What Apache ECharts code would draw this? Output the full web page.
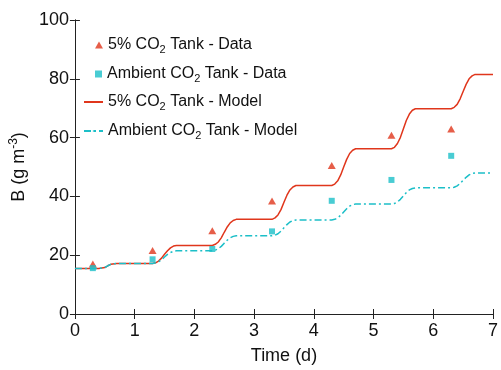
<!DOCTYPE html>
<html><head><meta charset="utf-8">
<script src="https://cdn.jsdelivr.net/npm/echarts@6/dist/echarts.min.js"></script>
<style>html,body{margin:0;padding:0;background:#fff}#c{width:501px;height:370px}</style>
</head><body><div id="c"></div>
<script>
var dataTime = [0.3, 1.3, 2.3, 3.3, 4.3, 5.3, 6.3];
var highData = [17.0, 21.6, 28.3, 38.4, 50.5, 60.8, 62.9];
var ambData = [15.6, 18.6, 22.1, 28.1, 38.5, 45.6, 53.8];
var modelTime = [0, 0.4, 0.5, 0.55, 0.6, 0.7,
  1.3, 1.35, 1.4, 1.45, 1.5, 1.55, 1.6, 1.65, 1.7,
  2.3, 2.35, 2.4, 2.45, 2.5, 2.55, 2.6, 2.65, 2.7,
  3.3, 3.35, 3.4, 3.45, 3.5, 3.55, 3.6, 3.65, 3.7,
  4.3, 4.35, 4.4, 4.45, 4.5, 4.55, 4.6, 4.65, 4.7,
  5.3, 5.35, 5.4, 5.45, 5.5, 5.55, 5.6, 5.65, 5.7,
  6.3, 6.35, 6.4, 6.45, 6.5, 6.55, 6.6, 6.65, 6.7, 7.0];
var highModel = [15.5, 15.5, 15.8, 16.4, 16.9, 17.2,
  17.2, 17.4, 18.0, 19.0, 20.3, 21.5, 22.5, 23.1, 23.3,
  23.3, 23.7, 24.5, 25.9, 27.8, 29.6, 31.0, 31.8, 32.2,
  32.2, 32.7, 33.7, 35.5, 38.0, 40.4, 42.2, 43.2, 43.7,
  43.7, 44.2, 45.3, 47.3, 50.0, 52.6, 54.6, 55.7, 56.2,
  56.2, 56.7, 58.0, 60.1, 63.0, 65.9, 68.0, 69.3, 69.8,
  69.8, 70.3, 71.3, 73.2, 75.7, 78.1, 80.0, 81.0, 81.5, 81.5];
var ambModel = [15.5, 15.5, 15.8, 16.4, 16.9, 17.2,
  17.2, 17.4, 17.8, 18.4, 19.4, 20.3, 20.9, 21.3, 21.5,
  21.5, 21.7, 22.2, 23.0, 24.1, 25.1, 25.9, 26.4, 26.6,
  26.6, 26.8, 27.3, 28.2, 29.3, 30.4, 31.3, 31.8, 32.0,
  32.0, 32.2, 32.7, 33.6, 34.7, 35.8, 36.7, 37.2, 37.4,
  37.4, 37.6, 38.1, 39.0, 40.2, 41.3, 42.2, 42.7, 42.9,
  42.9, 43.1, 43.6, 44.4, 45.5, 46.5, 47.3, 47.8, 48.0, 48.0];
var seriesNames = ['5% CO2 Tank - Data', 'Ambient CO2 Tank - Data', '5% CO2 Tank - Model', 'Ambient CO2 Tank - Model'];
var xTicks = [0, 1, 2, 3, 4, 5, 6, 7];
var yTicks = [0, 20, 40, 60, 80, 100];

var RED = '#e0361c', CYAN = '#1cbfc8';
var FONT = '"Liberation Sans", Arial, sans-serif';
function zip(a, b) { return a.map(function (v, i) { return [v, b[i]]; }); }
var legendText = {
  fontFamily: FONT, fontSize: 16, color: '#111',
  rich: { sub: { fontFamily: FONT, fontSize: 11, padding: [10, 0, 0, 0], color: '#111' } }
};
function fmt(n) { return n.replace('CO2', 'CO{sub|2}'); }
function leg(name, left, top, w, h) {
  return { data: [name], left: left, top: top, itemWidth: w, itemHeight: h, itemGap: 0,
    formatter: fmt, textStyle: legendText, selectedMode: false, padding: 0 };
}
var axisCommonX = { type: 'value', min: 0, max: 7, interval: 1 };
var axisCommonY = { type: 'value', min: 0, max: 100, interval: 20 };
var lineStyleAxis = { color: '#222', width: 1 };

var chart = echarts.init(document.getElementById('c'));
chart.setOption({
  animation: false,
  grid: { left: 73, right: 4, top: 20, bottom: 45, containLabel: false },
  legend: [
    leg(seriesNames[0], 95, 37, 8, 7),
    leg(seriesNames[1], 95, 66, 7, 7),
    leg(seriesNames[2], 83, 94, 19, 2),
    leg(seriesNames[3], 83, 123, 19, 2)
  ],
  xAxis: [
    Object.assign({}, axisCommonX, {
      position: 'bottom',
      name: 'Time (d)', nameLocation: 'middle', nameGap: 33,
      nameTextStyle: { fontFamily: FONT, fontSize: 18, color: '#111' },
      axisLine: { show: true, lineStyle: lineStyleAxis },
      axisTick: { show: true, inside: true, length: 5, lineStyle: lineStyleAxis },
      axisLabel: { fontFamily: FONT, fontSize: 18, color: '#111', margin: 8,
        formatter: function (v) { return xTicks.indexOf(v) >= 0 ? String(v) : ''; } },
      splitLine: { show: false }
    }),
    Object.assign({}, axisCommonX, {
      position: 'top',
      axisLine: { show: true, lineStyle: lineStyleAxis },
      axisTick: { show: true, inside: true, length: 5, lineStyle: lineStyleAxis },
      axisLabel: { show: false }, splitLine: { show: false }
    })
  ],
  yAxis: [
    Object.assign({}, axisCommonY, {
      position: 'left',
      name: 'B (g m{sup|-3})', nameLocation: 'middle', nameGap: 36, nameRotate: 90,
      nameTextStyle: { fontFamily: FONT, fontSize: 18, color: '#111',
        rich: { sup: { fontFamily: FONT, fontSize: 12, padding: [0, 0, 10, 0], color: '#111' } } },
      axisLine: { show: true, lineStyle: lineStyleAxis },
      axisTick: { show: true, inside: true, length: 5, lineStyle: lineStyleAxis },
      axisLabel: { fontFamily: FONT, fontSize: 18, color: '#111', margin: 6,
        formatter: function (v) { return yTicks.indexOf(v) >= 0 ? String(v) : ''; } },
      splitLine: { show: false }
    }),
    Object.assign({}, axisCommonY, {
      position: 'right',
      axisLine: { show: true, lineStyle: lineStyleAxis },
      axisTick: { show: true, inside: true, length: 5, lineStyle: lineStyleAxis },
      axisLabel: { show: false }, splitLine: { show: false }
    })
  ],
  series: [
    { name: seriesNames[2], type: 'line', data: zip(modelTime, highModel), showSymbol: false, symbol: 'none',
      smooth: false, lineStyle: { color: RED, width: 1.5 }, itemStyle: { color: RED }, z: 2 },
    { name: seriesNames[3], type: 'line', data: zip(modelTime, ambModel), showSymbol: false, symbol: 'none',
      smooth: false, lineStyle: { color: CYAN, width: 1.5, type: [7, 3, 2, 3] }, itemStyle: { color: CYAN }, z: 2 },
    { name: seriesNames[0], type: 'scatter', data: zip(dataTime, highData), symbol: 'triangle', symbolSize: [8, 7],
      itemStyle: { color: RED }, z: 3 },
    { name: seriesNames[1], type: 'scatter', data: zip(dataTime, ambData), symbol: 'rect', symbolSize: 6,
      itemStyle: { color: CYAN }, z: 3 }
  ]
});
</script></body></html>
